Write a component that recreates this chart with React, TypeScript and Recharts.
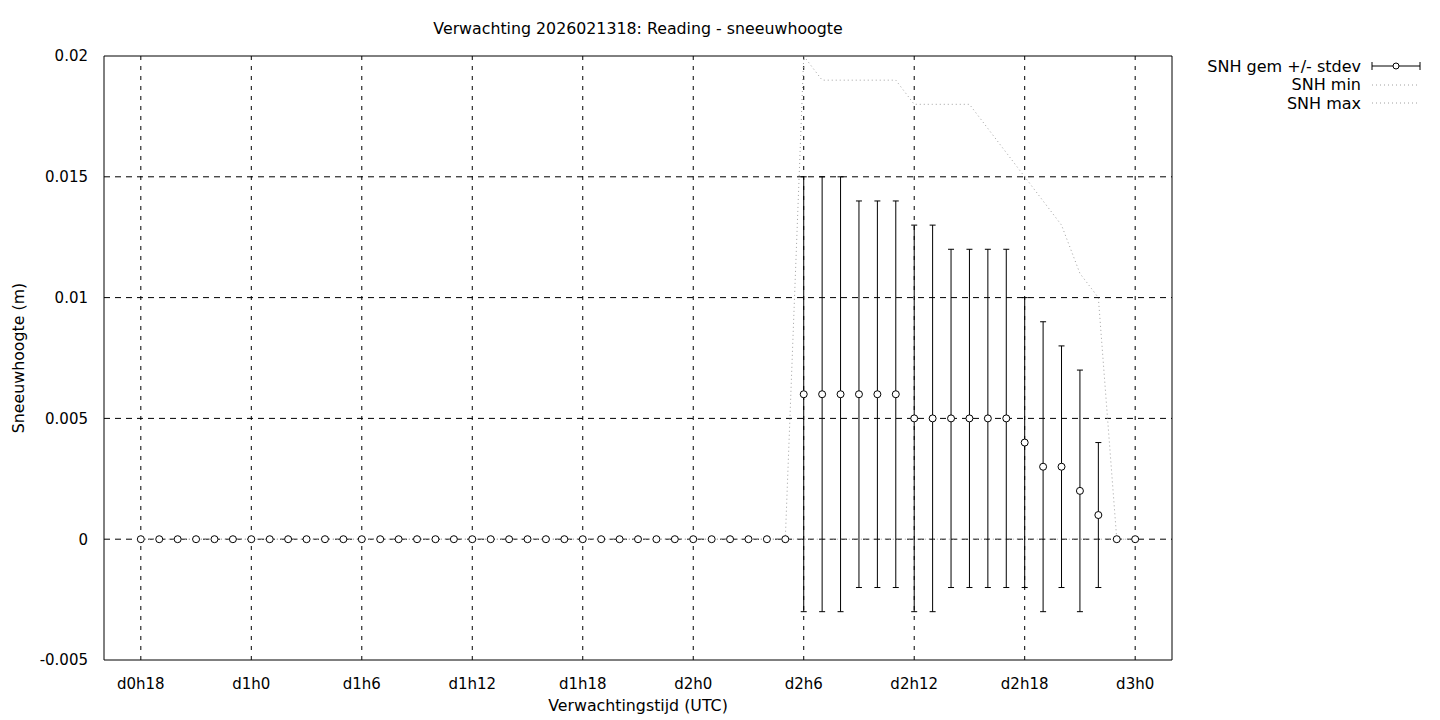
import React from 'react';
import { ComposedChart, Line, Scatter, ErrorBar, XAxis, YAxis, CartesianGrid, ReferenceArea } from 'recharts';

// forecast hours counted from d0h0
const hours = [
  18, 19, 20, 21, 22, 23, 24, 25, 26, 27, 28, 29, 30, 31, 32, 33, 34, 35, 36, 37,
  38, 39, 40, 41, 42, 43, 44, 45, 46, 47, 48, 49, 50, 51, 52, 53, 54, 55, 56, 57,
  58, 59, 60, 61, 62, 63, 64, 65, 66, 67, 68, 69, 70, 71, 72,
];

const snhMean = [
  0, 0, 0, 0, 0, 0, 0, 0, 0, 0, 0, 0, 0, 0, 0, 0, 0, 0, 0, 0,
  0, 0, 0, 0, 0, 0, 0, 0, 0, 0, 0, 0, 0, 0, 0, 0, 0.006, 0.006, 0.006, 0.006,
  0.006, 0.006, 0.005, 0.005, 0.005, 0.005, 0.005, 0.005, 0.004, 0.003, 0.003, 0.002, 0.001, 0, 0,
];

const snhStdev = [
  0, 0, 0, 0, 0, 0, 0, 0, 0, 0, 0, 0, 0, 0, 0, 0, 0, 0, 0, 0,
  0, 0, 0, 0, 0, 0, 0, 0, 0, 0, 0, 0, 0, 0, 0, 0, 0.009, 0.009, 0.009, 0.008,
  0.008, 0.008, 0.008, 0.008, 0.007, 0.007, 0.007, 0.007, 0.006, 0.006, 0.005, 0.005, 0.003, 0, 0,
];

const snhMax = [
  0, 0, 0, 0, 0, 0, 0, 0, 0, 0, 0, 0, 0, 0, 0, 0, 0, 0, 0, 0,
  0, 0, 0, 0, 0, 0, 0, 0, 0, 0, 0, 0, 0, 0, 0, 0, 0.02, 0.019, 0.019, 0.019,
  0.019, 0.019, 0.018, 0.018, 0.018, 0.018, 0.017, 0.016, 0.015, 0.014, 0.013, 0.011, 0.01, 0, 0,
];

const snhMin = [
  0, 0, 0, 0, 0, 0, 0, 0, 0, 0, 0, 0, 0, 0, 0, 0, 0, 0, 0, 0,
  0, 0, 0, 0, 0, 0, 0, 0, 0, 0, 0, 0, 0, 0, 0, 0, 0, 0, 0, 0,
  0, 0, 0, 0, 0, 0, 0, 0, 0, 0, 0, 0, 0, 0, 0,
];

const xTicks = [18, 24, 30, 36, 42, 48, 54, 60, 66, 72];
const xTickLabels = ['d0h18', 'd1h0', 'd1h6', 'd1h12', 'd1h18', 'd2h0', 'd2h6', 'd2h12', 'd2h18', 'd3h0'];
const yTicks = [-0.005, 0, 0.005, 0.01, 0.015, 0.02];
const yGridValues = [0, 0.005, 0.01, 0.015];
const legendNames = ['SNH gem +/- stdev', 'SNH min', 'SNH max'];

const data = hours.map((h, i) => ({
  hour: h,
  mean: snhMean[i],
  err: snhStdev[i],
  min: snhMin[i],
  max: snhMax[i],
}));

const FONT = '"DejaVu Sans", sans-serif';
const DOT_GREY = '#a0a0a0';

const OpenCircle = (props: any) => (
  <circle cx={props.cx} cy={props.cy} r={3.5} fill="#fff" stroke="#000" strokeWidth={1} />
);

const LegendBox = () => (
  <div style={{ position: 'absolute', right: 18, top: 57, fontFamily: FONT, fontSize: 16, color: '#000' }}>
    {legendNames.map((name, i) => (
      <div key={name} style={{ display: 'flex', alignItems: 'center', justifyContent: 'flex-end', height: 18.5 }}>
        <span style={{ whiteSpace: 'nowrap' }}>{name}</span>
        <svg width={52} height={12} style={{ marginLeft: 9 }}>
          {i === 0 ? (
            <g stroke="#000" strokeWidth={1}>
              <line x1={2} y1={6} x2={50} y2={6} />
              <line x1={2} y1={2} x2={2} y2={10} />
              <line x1={50} y1={2} x2={50} y2={10} />
              <circle cx={26} cy={6} r={3} fill="#fff" />
            </g>
          ) : (
            <line x1={2} y1={6} x2={50} y2={6} stroke={DOT_GREY} strokeWidth={1} strokeDasharray="1 3" />
          )}
        </svg>
      </div>
    ))}
  </div>
);

export default function App() {
  return (
    <div style={{ position: 'absolute', left: 0, top: 0, width: 1440, height: 720, background: '#fff', fontFamily: FONT }}>
      <div style={{ position: 'absolute', left: 104, width: 1068, top: 19, textAlign: 'center', fontSize: 15.8 }}>
        Verwachting 2026021318: Reading - sneeuwhoogte
      </div>
      <div style={{ position: 'absolute', left: 104, width: 1068, top: 696, textAlign: 'center', fontSize: 15.8 }}>
        Verwachtingstijd (UTC)
      </div>
      <div
        style={{
          position: 'absolute', left: 18, top: 358, fontSize: 15.8, whiteSpace: 'nowrap',
          transform: 'translate(-50%, -50%) rotate(-90deg)',
        }}
      >
        Sneeuwhoogte (m)
      </div>
      <LegendBox />
      <ComposedChart width={1440} height={720} data={data} margin={{ top: 56, right: 268, bottom: 30, left: 44 }}>
        <CartesianGrid horizontal={false} vertical verticalValues={xTicks} stroke="#000" strokeDasharray="4 6" />
        <CartesianGrid horizontal vertical={false} horizontalValues={yGridValues} stroke="#000" strokeDasharray="6 5" />
        <XAxis
          dataKey="hour" type="number" domain={[16, 74]} ticks={xTicks} height={30}
          tickFormatter={(v: number) => xTickLabels[xTicks.indexOf(v)]}
          axisLine={false} tickLine={false} tickMargin={12}
          tick={{ fill: '#000', fontSize: 15, fontFamily: FONT }}
        />
        <YAxis
          type="number" domain={[-0.005, 0.02]} ticks={yTicks} width={60} allowDataOverflow
          tickFormatter={(v: number) => String(v)}
          axisLine={false} tickLine={false} tickMargin={10}
          tick={{ fill: '#000', fontSize: 15, fontFamily: FONT }}
        />
        <ReferenceArea x1={16} x2={74} y1={-0.005} y2={0.02} fill="none" stroke="#000" strokeWidth={1} ifOverflow="visible" />
        <Line dataKey="min" type="linear" stroke={DOT_GREY} strokeWidth={1} strokeDasharray="1 3" dot={false} isAnimationActive={false} />
        <Line dataKey="max" type="linear" stroke={DOT_GREY} strokeWidth={1} strokeDasharray="1 3" dot={false} isAnimationActive={false} />
        <Scatter dataKey="mean" shape={<OpenCircle />} isAnimationActive={false}>
          <ErrorBar dataKey="err" direction="y" width={3} stroke="#000" strokeWidth={1} isAnimationActive={false} />
        </Scatter>
      </ComposedChart>
    </div>
  );
}
